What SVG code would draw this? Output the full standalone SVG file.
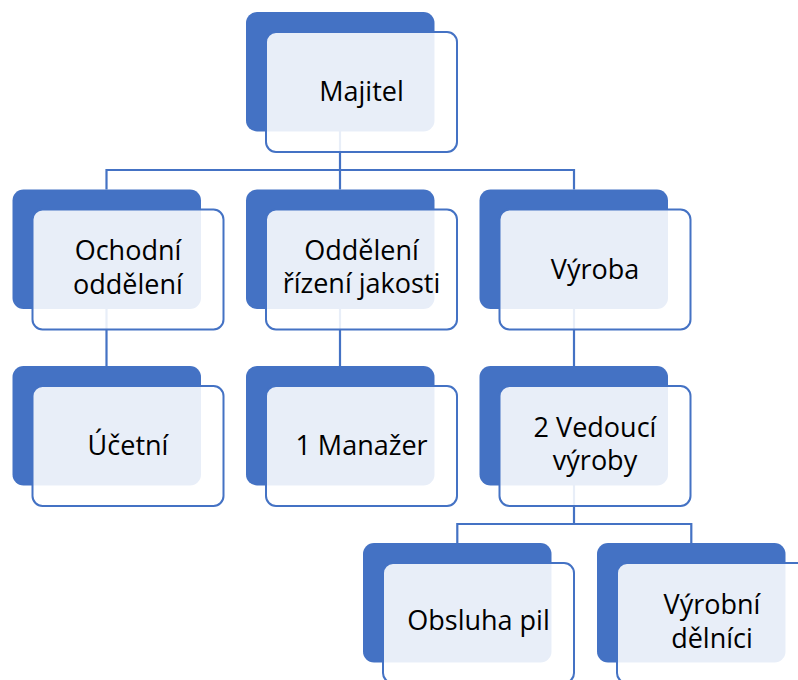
<svg xmlns="http://www.w3.org/2000/svg" width="798" height="680" viewBox="0 0 798 680">
<style>
.back{fill:#4472C4}
.front{fill:#FFFFFF;fill-opacity:0.88;stroke:#4472C4;stroke-width:2}
.conn{fill:none;stroke:#4472C4;stroke-width:2.2}
text{font-family:"Open Sans","Liberation Sans",sans-serif;font-size:27px;fill:#000;text-anchor:middle}
</style>
<rect width="798" height="680" fill="#FFFFFF"/>
<g id="connectors">
<path class="conn" d="M340,131 V170 M106.5,189.5 V170 H574 V189.5 M340,170 V189.5"/>
<path class="conn" d="M106.5,308 V366 M340,308 V366 M574,308 V366"/>
<path class="conn" d="M574,485 V524 M457.3,543 V524 H691.3 V543"/>
</g>
<g id="n-majitel">
<rect class="back" x="246" y="12" width="188.5" height="119.5" rx="11"/>
<rect class="front" x="266" y="32" width="191" height="120" rx="10"/>
<text x="361.5" y="101">Majitel</text>
</g>
<g id="n-ochodni">
<rect class="back" x="12.5" y="189.5" width="188.5" height="119.5" rx="11"/>
<rect class="front" x="32.5" y="209.5" width="191" height="120" rx="10"/>
<text x="128" y="260">Ochodní</text>
<text x="128" y="293.5">oddělení</text>
</g>
<g id="n-jakost">
<rect class="back" x="246" y="189.5" width="188.5" height="119.5" rx="11"/>
<rect class="front" x="266" y="209.5" width="191" height="120" rx="10"/>
<text x="361.5" y="259.5">Oddělení</text>
<text x="361.5" y="293">řízení jakosti</text>
</g>
<g id="n-vyroba">
<rect class="back" x="479.5" y="189.5" width="188.5" height="119.5" rx="11"/>
<rect class="front" x="499.5" y="209.5" width="191" height="120" rx="10"/>
<text x="595" y="278.5">Výroba</text>
</g>
<g id="n-ucetni">
<rect class="back" x="12.5" y="366" width="188.5" height="119.5" rx="11"/>
<rect class="front" x="32.5" y="386" width="191" height="120" rx="10"/>
<text x="128" y="454.5">Účetní</text>
</g>
<g id="n-manazer">
<rect class="back" x="246" y="366" width="188.5" height="119.5" rx="11"/>
<rect class="front" x="266" y="386" width="191" height="120" rx="10"/>
<text x="361.5" y="455">1 Manažer</text>
</g>
<g id="n-vedouci">
<rect class="back" x="479.5" y="366" width="188.5" height="119.5" rx="11"/>
<rect class="front" x="499.5" y="386" width="191" height="120" rx="10"/>
<text x="595" y="436.5">2 Vedoucí</text>
<text x="595" y="470">výroby</text>
</g>
<g id="n-obsluha">
<rect class="back" x="363" y="543" width="188.5" height="119.5" rx="11"/>
<rect class="front" x="383" y="563" width="191" height="120" rx="10"/>
<text x="478.5" y="630">Obsluha pil</text>
</g>
<g id="n-delnici">
<rect class="back" x="597" y="543" width="188.5" height="119.5" rx="11"/>
<rect class="front" x="617" y="563" width="191" height="120" rx="10"/>
<text x="712" y="613.5">Výrobní</text>
<text x="712" y="648">dělníci</text>
</g>
</svg>
